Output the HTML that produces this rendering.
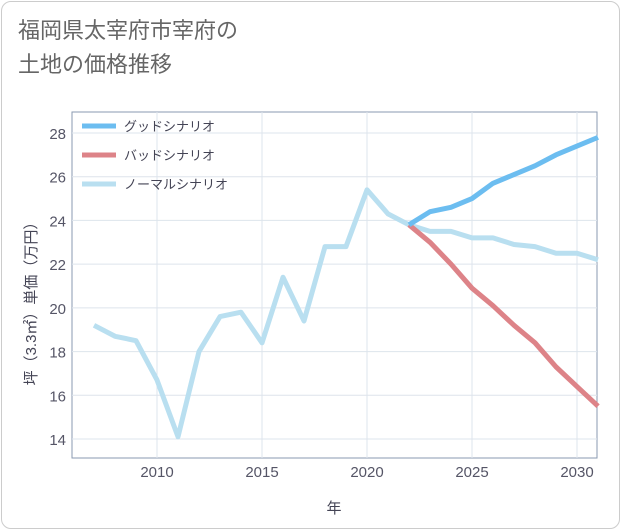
<!DOCTYPE html>
<html><head><meta charset="utf-8">
<style>
body{margin:0;background:#fff;font-family:"Liberation Sans","Noto Sans CJK JP",sans-serif;}
.card{position:absolute;left:1px;top:1px;width:617px;height:526px;border:1px solid #ccc;border-radius:10px;background:#fff;}
.title{position:absolute;left:18px;top:14px;font-size:22px;line-height:34px;color:#666;}
</style></head><body>
<div class="card"></div>
<div class="title">福岡県太宰府市宰府の<br>土地の価格推移</div>
<svg id="c" width="621" height="530" style="position:absolute;left:0;top:0"></svg>
<script>
const years=[2007,2008,2009,2010,2011,2012,2013,2014,2015,2016,2017,2018,2019,2020,2021,2022,2023,2024,2025,2026,2027,2028,2029,2030,2031];
const normal=[19.2,18.7,18.5,16.7,14.1,18.0,19.6,19.8,18.4,21.4,19.4,22.8,22.8,25.4,24.3,23.8,23.5,23.5,23.2,23.2,22.9,22.8,22.5,22.5,22.2];
const fYears=[2022,2023,2024,2025,2026,2027,2028,2029,2030,2031];
const good=[23.8,24.4,24.6,25.0,25.7,26.1,26.5,27.0,27.4,27.8];
const bad=[23.8,23.0,22.0,20.9,20.1,19.2,18.4,17.3,16.4,15.5];
const xTicks=[2010,2015,2020,2025,2030];
const yTicks=[14,16,18,20,22,24,26,28];
const L=72,R=597,T=112,B=458;
const x=v=>157+(v-2010)*21;
const y=v=>439-(v-14)*21.857;
const svg=document.getElementById('c');
const NS='http://www.w3.org/2000/svg';
function mk(t,a,p){const e=document.createElementNS(NS,t);for(const k in a)e.setAttribute(k,a[k]);(p||svg).appendChild(e);return e;}
let e=mk('rect',{x:L,y:T,width:R-L,height:B-T,fill:'none',stroke:'#8a9ab0','stroke-width':1});


xTicks.forEach(t=>{
 let g=mk('line',{x1:x(t),x2:x(t),y1:T,y2:B,stroke:'#dde4ec'});
 
 
 let l=mk('text',{x:x(t),y:477,'text-anchor':'middle','font-size':15,fill:'#556'});l.textContent=t;
 
 
});
yTicks.forEach(t=>{
 let g=mk('line',{x1:L,x2:R,y1:y(t),y2:y(t),stroke:'#dde4ec'});
 
 
 let l=mk('text',{x:66,y:y(t)+6,'text-anchor':'end','font-size':15,fill:'#556'});l.textContent=t;
 
 
});
let xt=mk('text',{x:334,y:513,'text-anchor':'middle','font-size':15,fill:'#445'});xt.textContent='年';


let yt=mk('text',{x:0,y:0,'text-anchor':'middle','font-size':15,fill:'#445',transform:'translate(36,300) rotate(-90)'});yt.textContent='坪（3.3㎡）単価（万円）';


function line(xs,vs,col,name){
 let p=mk('polyline',{points:xs.map((v,i)=>x(v)+','+y(vs[i])).join(' '),fill:'none',stroke:col,'stroke-width':5,'stroke-linejoin':'round'});
 
 
}
line(years,normal,'#b9dff0','normal-scenario-line');
line(fYears,bad,'#dd8388','bad-scenario-line');
line(fYears,good,'#6cbdf0','good-scenario-line');
[['グッドシナリオ','#6cbdf0',126],['バッドシナリオ','#dd8388',155],['ノーマルシナリオ','#b9dff0',184]].forEach(([t,c,yy])=>{
 let s=mk('line',{x1:82,x2:116,y1:yy,y2:yy,stroke:c,'stroke-width':5});
 
 
 let l=mk('text',{x:124,y:yy+5,'font-size':13,fill:'#445'});l.textContent=t;
 
 
});
</script>
</body></html>
